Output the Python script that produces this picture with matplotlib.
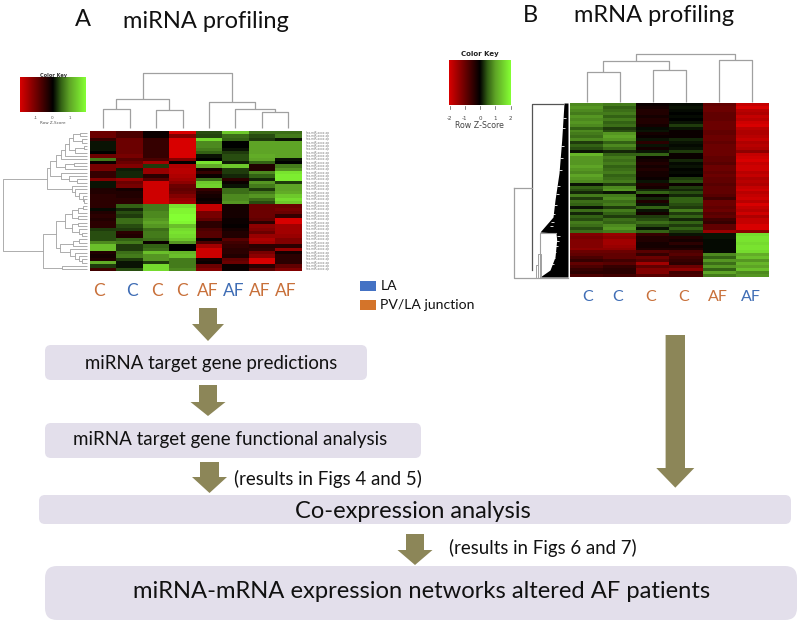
import numpy as np
import matplotlib
matplotlib.use("Agg")
import matplotlib.pyplot as plt
from matplotlib.colors import LinearSegmentedColormap
from matplotlib.patches import FancyBboxPatch, Polygon

plt.rcParams['font.family'] = ['Lato', 'DejaVu Sans']

# ---------- data: miRNA heatmap columns (row z-scores) ----------
mi_c1 = [-1.0,-1.0,-.5,.1,.1,.1,0,-1.0,.7,-.1,-1.1,-1.1,-.5,-.5,-1.2,.1,.1,-.3,-.3,-.4,-.4,-.4,
         -.4,.05,-.3,-.4,-.3,-.4,-.4,.3,.4,.4,.4,.8,1.3,1.3,-.3,-.2,-.3,1.1,.3,-.6]
mi_c2 = [-.7,-.7,-1,-1,-1,-1,-1,-1.1,-.8,-1.0,-1.2,.15,.2,.2,-1.4,-1,-1.1,-.2,-.3,-.3,-.4,-.4,
         .5,.2,.4,.3,.6,.6,.4,.3,-.4,-.3,.5,.7,.3,.3,.6,.7,.3,.1,.1,.4]
mi_c3 = [-.1,-.1,-.5,-.5,-.5,-.5,-.5,-.5,-.7,-1.5,.3,-1.4,-1.4,-.4,-.8,-1.9,-1.9,-1.9,-1.9,-1.9,-1.9,-1.9,
         .7,.7,.8,.8,.9,1,.9,.6,.7,.7,.6,-.1,.5,.6,1.3,.9,.9,.3,1.6,1.6]
mi_c4 = [-2,-1.2,-2,-2,-2,-2,-2,-2,-1.2,0,-1.6,-1.7,-1.7,-1.6,-1.5,-1.3,-1,-.9,-1,-1.2,-1.4,-1.5,
         1.7,1.9,1.9,2,2,1.9,1.3,1.6,1.7,1.6,1.4,.9,0,0,1.2,1.3,.7,.7,.7,.8]
mi_af1 = [.4,.35,1.6,.8,.8,.7,.5,.1,0,1.7,1.1,-.2,-.5,-.1,.6,1.4,1.5,-.5,-.3,-.2,-.1,-.2,
          -1.8,-1.8,-1.1,-1.1,-.9,-.4,-.4,-.7,-.8,-.8,-.1,-.7,-1.5,-1.9,-1.9,-1.9,-.2,-.1,-1,-1.2]
mi_af2 = [1.4,.6,.5,0,0,.1,.3,.4,.4,.15,1.4,.3,.3,.2,-.4,-.1,.1,.6,.6,.8,.8,.9,
          -.2,-.2,-.2,-.2,-.1,-.1,-.05,-.2,-.3,-.3,-.8,-.6,-.5,-.4,-.4,-.3,-.9,-1,-.1,-.1]
mi_af3 = [.6,.4,.3,1,1,1,1,1.1,1,.5,-.3,-.3,.8,.5,.2,.9,.7,.3,.7,.9,.6,.4,
          -1,-1,-1,-1,-.9,-.4,-1.3,-1.2,-1,-1.4,-1.6,-1.5,-.4,-.5,-1.1,-1.3,-2,-2,-.4,-.8]
mi_af4 = [.6,.7,.1,1,1,1,1,1,.1,0,.7,.9,1.7,1.8,1.8,.3,1,1,1.1,1.4,1.6,1.4,
          -1,-1.1,-1,-.5,-2,-2,-1.5,-1.5,-1.5,-1.4,-1.2,-1.2,-.4,-1.4,-.2,-.4,-.4,-.4,-.9,-1.2]
mi_row_labels = ["hsa-miR-xxxx-xp"] * 42
mi_col_labels = ["C", "C", "C", "C", "AF", "AF", "AF", "AF"]
mi_col_tissue = ["PV", "LA", "PV", "PV", "PV", "LA", "PV", "PV"]
mi_label_x = [98.7, 132, 157, 182, 208, 234, 260, 286]

# ---------- data: mRNA heatmap columns (row z-scores) ----------
m_c1 = [.8,.9,.8,.7,.9,.8,.9,.8,.5,.8,.7,.6,.8,.3,.5,.4,.1,1.2,.9,.9,.9,1,.9,.8,1,.9,.8,.1,.5,.4,
        .2,.7,.3,.6,.5,.1,.6,.2,.5,.4,.7,.6,.4,.6,
        -1.2,-1.1,-1.2,-1.2,-1.2,-1.3,-1,-.9,-.7,-.5,-.9,-.7,-.5,-.4,-.7]
m_c2 = [.7,.5,.6,.7,.5,.7,.5,.6,.3,.4,.9,1,.9,.5,.8,.6,.2,.5,.7,.6,.7,.5,.6,.7,.5,.6,.7,.3,.8,.9,
        .1,.7,.8,.6,.7,.3,.7,.5,.3,.6,.5,.8,.9,.7,
        -1.4,-1.3,-1.5,-1.5,-1.4,-1.3,-1,-.9,-.9,-.6,-.8,-.5,-.4,-.4,-.6]
m_c3 = [-.1,-.2,-.3,-.3,-.2,-.3,-.3,-.2,.05,.1,-.2,-.1,.1,-.4,.1,-.2,.1,.5,-.1,-.2,-.3,-.2,-.3,-.2,-.2,-.1,.1,-.3,-.2,.2,
        .5,-.1,.2,-.3,.1,.5,.1,-.2,.3,.4,.6,.4,.1,.5,
        -.5,-.3,-.3,-.2,-.2,-.3,-.8,-.5,-1,-.8,-1.5,-.9,-1.2,-1.2,-.8]
m_c4 = [.05,.1,.05,0,.05,0,.1,.3,.1,-.1,-.1,-.1,.2,.1,.05,.1,.3,-.1,-.1,.2,.05,.1,.02,.05,0,.3,.4,-.1,.3,.2,
        .4,.2,.5,.5,.4,.3,.7,.3,.5,.2,.5,.3,.5,.3,
        .1,-.3,-.2,-.4,-.2,-.3,-.7,-.8,-.6,-.5,-.4,-1,-1.3,-.6,-.7]
m_af1 = [-.9,-1,-1,-.9,-.9,-.9,-1,-1,-1,-.9,-.9,-1,-1,-.9,-1,-1,-1,-1,-.9,-.9,-.8,-1,-1,-.9,-1,-.9,-.9,-.8,-.9,-.9,
         -.9,-.8,-.6,-1,-1,-.9,-1,-.8,-.9,-.6,-.5,-.9,-.9,-1.4,
         .1,.1,.05,.05,.05,.05,.05,.8,.5,.9,.6,.9,.5,1.0,.7]
m_af2 = [-1.8,-2,-1.7,-1.6,-1.8,-1.7,-1.9,-2,-1.7,-1.6,-1.6,-1.7,-1.8,-1.6,-1.7,-1.6,-1.3,-1.8,-1.9,-2,-1.8,-1.9,-1.9,-1.7,-1.8,-1.6,-1.7,-1.6,-1.8,-1.9,
         -1.7,-1.8,-1.9,-1.7,-2,-1.8,-1.7,-1.9,-1.6,-1.8,-1.8,-2,-2,-1.3,
         1.6,1.7,1.7,1.6,1.7,1.7,1.6,1.1,1.3,.9,1.2,1.0,1.3,.8,.9]
m_col_labels = ["C", "C", "C", "C", "AF", "AF"]
m_col_tissue = ["LA", "LA", "PV", "PV", "PV", "LA"]
m_label_x = [588, 617.7, 650.7, 684, 717.7, 751]

# ---------- dendrograms: (position, left, right) with leaves as ints ----------
mi_col_tree = (55, (29, (19, 0, 1), (18, 2, 3)), (26, 4, (19, 5, (16, 6, 7))))
m_col_tree = (47.7, (40.7, (30.3, 0, 1), (31.7, 2, 3)), (42.3, 4, 5))
mi_row_tree = (84,
    (40,
     (37, (31, (26, (22, (18, (14, (7, 0, 1), (5, 2, 3)), (12, (3, 4, 5), 6)), 7), 8),
               (22, (13, 9, 10), 11)),
          (26, 12, (18, 13, (10, 14, 15)))),
     (15, 16, (12, 17, (8, 18, (4, 19, (3, 20, 21)))))),
    (44,
     (31, (22, (15, (9, (4, 22, 23), 24), (9, 25, 26)), (15, (9, 27, 28), (8, 29, (5, 30, 31)))),
          (27, (14, (8, 32, 33), 34), (17, 35, (12, 36, (8, 37, (5, 38, 39)))))),
     (25, 40, 41)))

m_mass_y = [103, 140, 173, 200, 217, 232, 233, 240, 257, 270, 277]
m_mass_x = [564, 561.7, 559, 555, 553, 540, 556, 556.7, 555, 550, 540]
m_gap_y = [118, 128, 146, 158, 170, 186, 194, 205, 214, 222, 226, 236, 241, 246, 252, 258, 264]
m_gap_x = [563, 562, 561, 560, 559, 557, 556, 554, 552, 551, 550, 557, 556, 555, 553, 552, 551]

arrow_specs = [  # cx, top, head start, tip, half shaft, half head
    (208, 308, 324, 341, 9, 16),
    (208, 385, 402, 416, 9, 17.5),
    (209.5, 462, 477, 493, 9.5, 17.5),
    (415, 534, 550, 565, 9, 17.5),
    (675.3, 335, 468, 487.7, 9.7, 19),
]
box_specs = [(45, 345, 322, 35, 6), (45, 423, 376, 35, 6), (39, 495, 752, 29, 6), (45, 566, 752, 54, 12)]

ORANGE, BLUE = '#c8703a', '#3f6db5'
TISSUE = {"PV": ORANGE, "LA": BLUE}
OLIVE = '#8c8658'
BOX = '#e3dfeb'
GREY = '#a0a0a0'

cmap = LinearSegmentedColormap.from_list('rg', [
    (0.0, (0.85, 0, 0)), (0.5, (0, 0, 0)), (0.625, (0.2, 0.38, 0.08)),
    (0.75, (0.37, 0.64, 0.15)), (1.0, (0.52, 1, 0.2))])

fig = plt.figure(figsize=(8, 6.24), dpi=100)
ax = fig.add_axes([0, 0, 1, 1])


def col_dendro(tree, xs, base, lw):
    def walk(n):
        if isinstance(n, int):
            return xs[n], base
        h, a, b = n
        xa, ya = walk(a)
        xb, yb = walk(b)
        y = base - h
        ax.plot([xa, xa, xb, xb], [ya, y, y, yb], color=GREY, lw=lw, solid_capstyle='butt')
        return (xa + xb) / 2, y
    walk(tree)


def row_dendro(tree, ys, right, lw):
    def walk(n):
        if isinstance(n, int):
            return right, ys[n]
        d, a, b = n
        xa, ya = walk(a)
        xb, yb = walk(b)
        x = right - d
        ax.plot([xa, x, x, xb], [ya, ya, yb, yb], color=GREY, lw=lw, solid_capstyle='butt')
        return x, (ya + yb) / 2
    walk(tree)


def key(x0, x1, y0, y1, lo, hi):
    ax.imshow(np.linspace(lo, hi, 128)[None, :], cmap=cmap, vmin=-2, vmax=2,
              extent=(x0, x1, y1, y0), aspect='auto', interpolation='bilinear')


# miRNA heatmap
mi = np.array([mi_c1, mi_c2, mi_c3, mi_c4, mi_af1, mi_af2, mi_af3, mi_af4]).T
mX0, mX1, mY0, mY1 = 90, 301.5, 131, 271
ax.imshow(mi, cmap=cmap, vmin=-2, vmax=2, extent=(mX0, mX1, mY1, mY0), aspect='auto', interpolation='nearest')
cx = mX0 + (np.arange(8) + .5) * (mX1 - mX0) / 8
ry = mY0 + (np.arange(42) + .5) * (mY1 - mY0) / 42
col_dendro(mi_col_tree, cx, 128, 0.9)
row_dendro(mi_row_tree, ry, 87, 0.6)
for y, s in zip(ry, mi_row_labels):
    ax.text(306, y, s, fontsize=2.1, color='#777777', va='center', ha='left', family='DejaVu Sans')
key(20, 86, 78, 112.5, -2, 2)
ax.text(53, 75, 'Color Key', fontsize=3.6, ha='center', va='center', color='#333333', weight='bold', family='DejaVu Sans')
for v, x in zip(['-1', '0', '1'], [35.5, 52.5, 69.5]):
    ax.text(x, 118, v, fontsize=3, ha='center', va='center', color='#555555', family='DejaVu Sans')
ax.text(52.5, 123, 'Row Z-Score', fontsize=3, ha='center', va='center', color='#555555', family='DejaVu Sans')
for x, s, t in zip(mi_label_x, mi_col_labels, mi_col_tissue):
    ax.text(x, 291, s, fontsize=12.5, ha='center', va='center', color=TISSUE[t])

# mRNA heatmap
mr = np.array([m_c1, m_c2, m_c3, m_c4, m_af1, m_af2]).T
rX0, rX1, rY0, rY1 = 570, 768.5, 103.5, 277
ax.imshow(mr, cmap=cmap, vmin=-2, vmax=2, extent=(rX0, rX1, rY1, rY0), aspect='auto', interpolation='nearest')
rx = rX0 + (np.arange(6) + .5) * (rX1 - rX0) / 6
col_dendro(m_col_tree, rx, 102, 0.9)
ax.fill_betweenx(m_mass_y, m_mass_x, 568, color='black', lw=0)
ax.hlines(m_gap_y, m_gap_x, [x + 3 for x in m_gap_x], color='white', lw=0.6)
ax.plot([531.7, 531.7, 563], [270, 104, 104], color='#555555', lw=0.9)
ax.plot([514, 514, 568], [188, 277.5, 277.5], color=GREY, lw=0.9)
ax.plot([514, 531.7], [188, 188], color=GREY, lw=0.9)
ax.plot([539.5, 539.5, 556], [277, 232.5, 232.5], color=GREY, lw=0.8)
ax.plot([537.5, 537.5, 541, 541], [277, 254, 254, 277], color=GREY, lw=0.7)
ax.plot([535.5, 535.5, 538], [277, 265, 265], color=GREY, lw=0.7)
key(449, 511, 60.5, 105.5, -2, 2)
ax.text(480, 54, 'Color Key', fontsize=5, ha='center', va='center', color='#222222', weight='bold', family='DejaVu Sans')
for v, x in zip(['-2', '-1', '0', '1', '2'], np.linspace(449.5, 510.5, 5)):
    ax.plot([x, x], [105.5, 108.5], color='#555555', lw=0.5)
    ax.text(x, 118, v, fontsize=4, ha='center', va='center', color='#444444', family='DejaVu Sans')
ax.text(479.5, 125, 'Row Z-Score', fontsize=5.7, ha='center', va='center', color='#444444', family='DejaVu Sans')
for x, s, t in zip(m_label_x, m_col_labels, m_col_tissue):
    ax.text(x, 297, s, fontsize=11.5, ha='center', va='center', color=TISSUE[t])

# titles
ax.text(83, 20, 'A', fontsize=17, ha='center', va='center', color='#111111')
ax.text(206, 22, 'miRNA profiling', fontsize=17, ha='center', va='center', color='#111111')
ax.text(530, 15, 'B', fontsize=17, ha='center', va='center', color='#111111')
ax.text(654, 15, 'mRNA profiling', fontsize=17, ha='center', va='center', color='#111111')

# legend
ax.add_patch(plt.Rectangle((360, 281), 16, 10, color='#4472c4', lw=0))
ax.add_patch(plt.Rectangle((360, 300), 16, 10, color='#d4742a', lw=0))
ax.text(381, 286, 'LA', fontsize=10.1, va='center', color='#111111')
ax.text(380, 305, 'PV/LA junction', fontsize=10.1, va='center', color='#111111')

# boxes
for x, y, w, h, r in box_specs:
    ax.add_patch(FancyBboxPatch((x + r, y + r), w - 2 * r, h - 2 * r, boxstyle=f'round,pad={r},rounding_size={r}',
                                fc=BOX, ec='none'))

# arrows
for c, t, hs, tip, sw, hw in arrow_specs:
    ax.add_patch(Polygon([(c - sw, t), (c + sw, t), (c + sw, hs), (c + hw, hs), (c, tip), (c - hw, hs), (c - sw, hs)],
                         closed=True, fc=OLIVE, ec='none'))

# flow text
ax.text(211.5, 363, 'miRNA target gene predictions', fontsize=13.4, ha='center', va='center', color='#111111')
ax.text(230, 439, 'miRNA target gene functional analysis', fontsize=13.5, ha='center', va='center', color='#111111')
ax.text(328, 478.5, '(results in Figs 4 and 5)', fontsize=13.4, ha='center', va='center', color='#111111')
ax.text(413, 511, 'Co-expression analysis', fontsize=17, ha='center', va='center', color='#111111')
ax.text(542.5, 547.5, '(results in Figs 6 and 7)', fontsize=13.4, ha='center', va='center', color='#111111')
ax.text(421.5, 591, 'miRNA-mRNA expression networks altered AF patients', fontsize=17.1, ha='center', va='center', color='#111111')

ax.set_xlim(0, 800)
ax.set_ylim(624, 0)
ax.axis('off')
fig.savefig('out.png', dpi=100)
